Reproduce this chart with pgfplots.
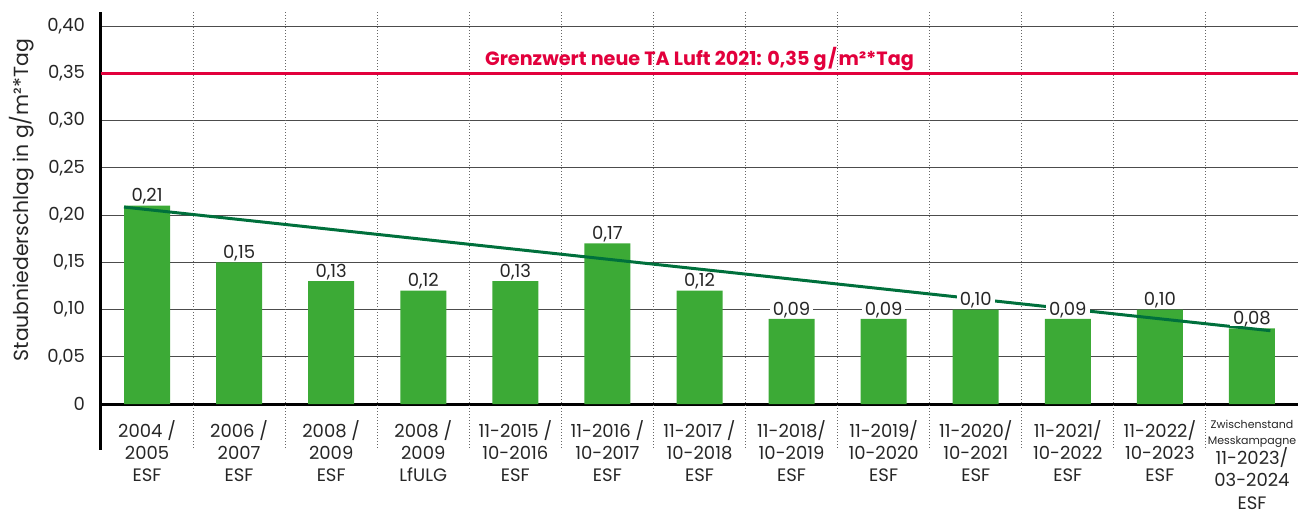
\documentclass[border=0pt]{standalone}
\usepackage{fontspec}
\setmainfont{Poppins}
\usepackage{pgfplots}
\pgfplotsset{compat=1.18}
\usepackage{pgfplotstable}
\definecolor{barg}{HTML}{3CAA36}
\definecolor{trendg}{HTML}{00703C}
\definecolor{grenz}{HTML}{E2003C}

\pgfplotstableread{
x y lab
0 0.21 0,21
1 0.15 0,15
2 0.13 0,13
3 0.12 0,12
4 0.13 0,13
5 0.17 0,17
6 0.12 0,12
7 0.09 0,09
8 0.09 0,09
9 0.10 0,10
10 0.09 0,09
11 0.10 0,10
12 0.08 0,08
}\data

\begin{document}
\begin{tikzpicture}
\begin{axis}[
  at={(0,0)}, anchor=south west,
  scale only axis, width=598.5pt, height=196pt,
  xmin=-0.5, xmax=12.5, ymin=0, ymax=0.415,
  axis x line*=bottom, axis y line*=left,
  axis line style={line width=1.5pt, -},
  xtick={0,...,12},
  xticklabels={
    {2004 /\\2005\\ESF},
    {2006 /\\2007\\ESF},
    {2008 /\\2009\\ESF},
    {2008 /\\2009\\LfULG},
    {11-2015 /\\10-2016\\ESF},
    {11-2016 /\\10-2017\\ESF},
    {11-2017 /\\10-2018\\ESF},
    {11-2018/\\10-2019\\ESF},
    {11-2019/\\10-2020\\ESF},
    {11-2020/\\10-2021\\ESF},
    {11-2021/\\10-2022\\ESF},
    {11-2022/\\10-2023\\ESF},
    {{\fontsize{5.5}{6}\selectfont Zwischenstand}\\[-3pt]{\fontsize{5.5}{6}\selectfont Messkampagne}\\[-1.5pt]11-2023/\\03-2024\\ESF}},
  ytick={0,0.05,0.10,0.15,0.20,0.25,0.30,0.35,0.40},
  yticklabels={0,{0,05},{0,10},{0,15},{0,20},{0,25},{0,30},{0,35},{0,40}},
  major tick length=0pt,
  ymajorgrids, grid style={black!70, line width=0.5pt},
  tick label style={font=\fontsize{9}{11.2}\selectfont, text=black!85},
  xticklabel style={align=center, yshift=-4.5pt},
  yticklabel style={xshift=-4.5pt},
  ylabel={Staubniederschlag in g/m²*Tag},
  every axis y label/.style={at={(axis description cs:-0.0827,0.52)}, rotate=90, anchor=north, font=\fontsize{10.2}{12}\selectfont, text=black!85},
  clip=false,
]
\pgfplotsinvokeforeach{0.5,1.5,...,11.5}{
  \draw[black!60, line width=0.5pt, dash pattern=on 0.5pt off 1pt] (axis cs:#1,0.415) -- ([yshift=-23pt]axis cs:#1,0);
}
\draw[line width=1.5pt] (axis cs:-0.5,0) -- ([yshift=-23pt]axis cs:-0.5,0);
\addplot[ybar, bar width=23pt, fill=barg, draw=none] table[x=x,y=y]{\data};
\addplot[trendg, line width=1.5pt, mark=none] coordinates {(-0.25,0.2085) (12.2,0.0776)};
\addplot[grenz, line width=1.5pt, mark=none] coordinates {(-0.5,0.35) (12.5,0.35)};
\addplot[draw=none, mark=none, nodes near coords, point meta=explicit symbolic,
  nodes near coords style={fill=white, inner xsep=1.5pt, inner ysep=0.5pt, text depth=0pt, anchor=south, yshift=1.2pt, font=\fontsize{9}{11}\selectfont, text=black!85}]
  table[x=x,y=y,meta=lab]{\data};
\node[text=grenz, font=\fontsize{9.6}{11}\selectfont\bfseries, anchor=south, inner sep=0pt, yshift=1.2pt] at (axis cs:6,0.35) {Grenzwert neue TA Luft 2021: 0,35 g\kern0.8pt/\kern0.8pt m²*Tag};
\end{axis}
\pgfresetboundingbox
\path (-50.5pt,-56pt) rectangle (600.5pt,202pt);
\end{tikzpicture}
\end{document}
